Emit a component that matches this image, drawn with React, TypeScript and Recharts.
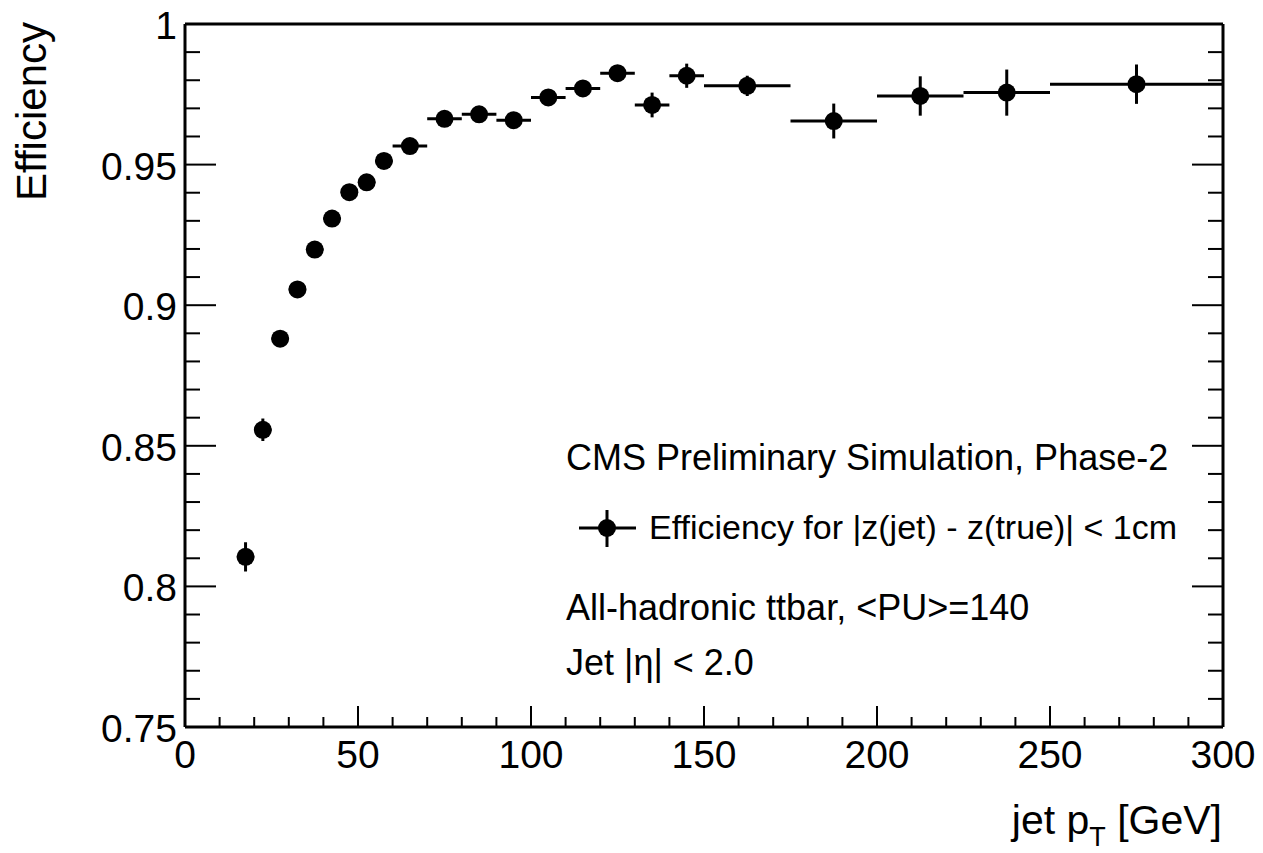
import { ScatterChart, Scatter, XAxis, YAxis, ErrorBar } from 'recharts'

// jet pT bins (GeV): centre and half width
const BIN_CENTERS = [17.5, 22.5, 27.5, 32.5, 37.5, 42.5, 47.5, 52.5, 57.5, 65, 75, 85, 95, 105, 115, 125, 135, 145, 162.5, 187.5, 212.5, 237.5, 275]
const BIN_HALF_WIDTHS = [2.5, 2.5, 2.5, 2.5, 2.5, 2.5, 2.5, 2.5, 2.5, 5, 5, 5, 5, 5, 5, 5, 5, 5, 12.5, 12.5, 12.5, 12.5, 25]
const EFFICIENCY = [0.8105, 0.8557, 0.8881, 0.9056, 0.9198, 0.9308, 0.9402, 0.9437, 0.9513, 0.9566, 0.9663, 0.9679, 0.9658, 0.9739, 0.9771, 0.9825, 0.9712, 0.9816, 0.978, 0.9655, 0.9744, 0.9756, 0.9786]
const EFF_ERRORS = [0.0052, 0.004, 0.0025, 0.0022, 0.002, 0.002, 0.002, 0.002, 0.002, 0.002, 0.002, 0.002, 0.002, 0.002, 0.002, 0.002, 0.0044, 0.0043, 0.0036, 0.0062, 0.007, 0.0082, 0.007]

const X_TICKS = [0, 10, 20, 30, 40, 50, 60, 70, 80, 90, 100, 110, 120, 130, 140, 150, 160, 170, 180, 190, 200, 210, 220, 230, 240, 250, 260, 270, 280, 290, 300]
const X_LABELS = [0, 50, 100, 150, 200, 250, 300]
const Y_TICKS = [0.75, 0.76, 0.77, 0.78, 0.79, 0.8, 0.81, 0.82, 0.83, 0.84, 0.85, 0.86, 0.87, 0.88, 0.89, 0.9, 0.91, 0.92, 0.93, 0.94, 0.95, 0.96, 0.97, 0.98, 0.99, 1]
const Y_LABELS = [0.75, 0.8, 0.85, 0.9, 0.95, 1]

const FONT = '"Liberation Sans", Arial, Helvetica, sans-serif'

const points = BIN_CENTERS.map((x, i) => ({
  x,
  y: EFFICIENCY[i],
  xErr: BIN_HALF_WIDTHS[i],
  yErr: EFF_ERRORS[i],
}))

const BottomTick = (props: any) => {
  const { x, y, payload } = props
  const major = X_LABELS.includes(payload.value)
  return (
    <g>
      <line x1={x} x2={x} y1={y} y2={y - (major ? 21 : 10)} stroke="#000" strokeWidth={2} />
      {major && (
        <text x={x} y={y + 41} textAnchor="middle" fontSize={39} fontFamily={FONT} fill="#000">
          {payload.value}
        </text>
      )}
    </g>
  )
}

const TopTick = (props: any) => {
  const { x, y, payload } = props
  const major = X_LABELS.includes(payload.value)
  return <line x1={x} x2={x} y1={y} y2={y + (major ? 21 : 10)} stroke="#000" strokeWidth={2} />
}

const LeftTick = (props: any) => {
  const { x, y, payload } = props
  const major = Y_LABELS.includes(payload.value)
  return (
    <g>
      <line x1={x} x2={x + (major ? 31 : 15)} y1={y} y2={y} stroke="#000" strokeWidth={2} />
      {major && (
        <text x={177} y={y + 15} textAnchor="end" fontSize={39} fontFamily={FONT} fill="#000">
          {String(payload.value)}
        </text>
      )}
    </g>
  )
}

const RightTick = (props: any) => {
  const { x, y, payload } = props
  const major = Y_LABELS.includes(payload.value)
  return <line x1={x} x2={x - (major ? 31 : 15)} y1={y} y2={y} stroke="#000" strokeWidth={2} />
}

const Marker = (props: any) => <circle cx={props.cx} cy={props.cy} r={9} fill="#000" />

const textStyle = { fontSize: 36, fontFamily: FONT, fill: '#000' }

export default function App() {
  return (
    <div style={{ position: 'absolute', left: 0, top: 0, width: 1263, height: 853, background: '#fff' }}>
      <ScatterChart width={1263} height={853} margin={{ top: 23, right: 39, bottom: 125, left: 184 }}>
        <XAxis
          xAxisId="bottom"
          dataKey="x"
          type="number"
          domain={[0, 300]}
          allowDataOverflow
          ticks={X_TICKS}
          interval={0}
          height={1}
          tickSize={0}
          tickMargin={0}
          tickLine={false}
          tick={BottomTick}
          axisLine={{ stroke: '#000', strokeWidth: 3 }}
        />
        <XAxis
          xAxisId="top"
          orientation="top"
          type="number"
          domain={[0, 300]}
          allowDataOverflow
          ticks={X_TICKS}
          interval={0}
          height={1}
          tickSize={0}
          tickMargin={0}
          tickLine={false}
          tick={TopTick}
          axisLine={{ stroke: '#000', strokeWidth: 3 }}
        />
        <YAxis
          yAxisId="left"
          dataKey="y"
          type="number"
          domain={[0.75, 1]}
          allowDataOverflow
          ticks={Y_TICKS}
          interval={0}
          width={1}
          tickSize={0}
          tickMargin={0}
          tickLine={false}
          tick={LeftTick}
          axisLine={{ stroke: '#000', strokeWidth: 3 }}
        />
        <YAxis
          yAxisId="right"
          orientation="right"
          type="number"
          domain={[0.75, 1]}
          allowDataOverflow
          ticks={Y_TICKS}
          interval={0}
          width={1}
          tickSize={0}
          tickMargin={0}
          tickLine={false}
          tick={RightTick}
          axisLine={{ stroke: '#000', strokeWidth: 3 }}
        />
        <Scatter
          data={points}
          xAxisId="bottom"
          yAxisId="left"
          isAnimationActive={false}
          shape={Marker}
        >
          <ErrorBar dataKey="xErr" direction="x" width={0} stroke="#000" strokeWidth={3} isAnimationActive={false} />
          <ErrorBar dataKey="yErr" direction="y" width={0} stroke="#000" strokeWidth={3} isAnimationActive={false} />
        </Scatter>

        {/* axis titles */}
        <text x={46} y={22} transform="rotate(-90, 46, 22)" textAnchor="end" fontSize={42} fontFamily={FONT} fill="#000">
          Efficiency
        </text>
        <text x={1222} y={834} textAnchor="end" fontSize={41} fontFamily={FONT} fill="#000">
          jet p
          <tspan fontSize={27} dy={12}>T</tspan>
          <tspan dy={-12}> [GeV]</tspan>
        </text>

        {/* annotations + legend */}
        <text x={566} y={470} {...textStyle}>CMS Preliminary Simulation, Phase-2</text>
        <line x1={579} x2={636} y1={528} y2={528} stroke="#000" strokeWidth={3} />
        <line x1={607} x2={607} y1={510} y2={547} stroke="#000" strokeWidth={3} />
        <circle cx={607} cy={528} r={9} fill="#000" />
        <text x={649} y={539} {...textStyle} fontSize={34}>Efficiency for |z(jet) - z(true)| &lt; 1cm</text>
        <text x={566} y={620} {...textStyle}>All-hadronic ttbar, &lt;PU&gt;=140</text>
        <text x={566} y={675} {...textStyle}>Jet |η| &lt; 2.0</text>
      </ScatterChart>
    </div>
  )
}
